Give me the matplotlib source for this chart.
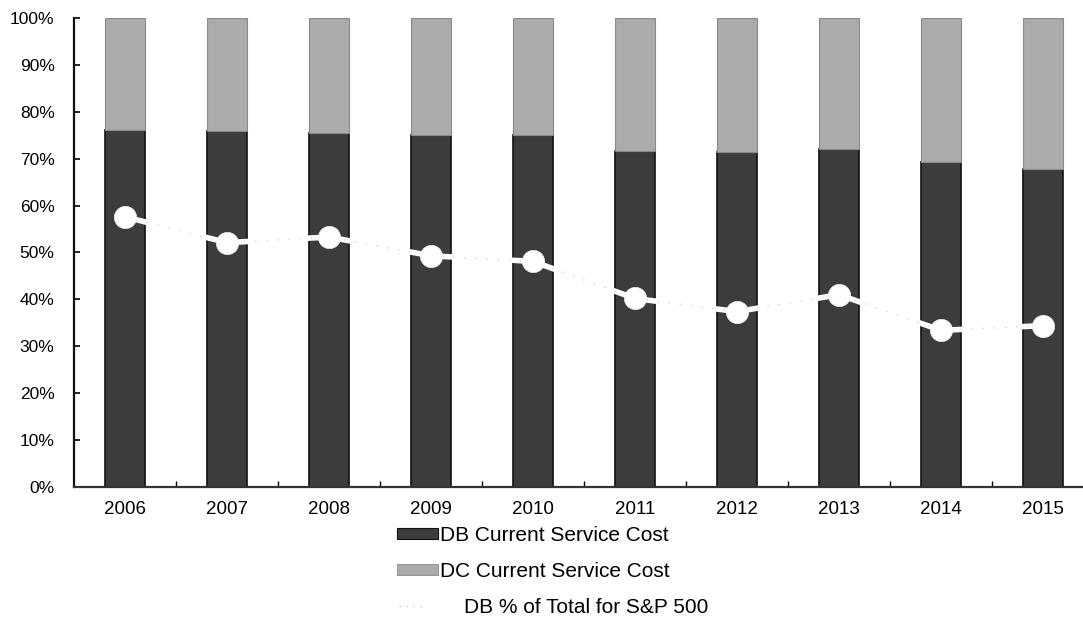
import matplotlib
matplotlib.use("Agg")
import matplotlib.pyplot as plt
from matplotlib.patches import Patch
from matplotlib.lines import Line2D
from matplotlib.ticker import FixedLocator, PercentFormatter

plt.rcParams['font.family'] = ['Liberation Sans', 'DejaVu Sans']

# Share of total current service cost, S&P 500 companies
years = ["2006", "2007", "2008", "2009", "2010", "2011", "2012", "2013", "2014", "2015"]
db_share = [76.1, 75.9, 75.4, 75.0, 75.1, 71.7, 71.5, 72.0, 69.3, 67.9]
dc_share = [100 - v for v in db_share]
db_pct_total = [57.6, 52.1, 53.3, 49.3, 48.1, 40.2, 37.4, 41.0, 33.4, 34.4]

db_label = "DB Current Service Cost"
dc_label = "DC Current Service Cost"
line_label = "DB % of Total for S&P 500"

DB_COLOR = "#3c3c3c"
DC_COLOR = "#ababab"

fig = plt.figure(figsize=(10.83, 6.19), dpi=100)
ax = fig.add_axes([74 / 1083, 1 - 487 / 619, 1020 / 1083, (487 - 18) / 619])

x = list(range(len(years)))
ax.bar(x, db_share, width=0.39, color=DB_COLOR, edgecolor="#111111", linewidth=1.2, zorder=2)
ax.bar(x, dc_share, bottom=db_share, width=0.39, color=DC_COLOR, edgecolor="#8a8a8a",
       linewidth=0.8, zorder=2)

# white trend line with faint specks where it crosses the white background
ax.plot(x, db_pct_total, color="white", lw=4, solid_capstyle="round", zorder=3)
ax.plot(x, db_pct_total, color="#d2d2d2", lw=1.0, linestyle=(0, (1, 7)), zorder=4)
ax.plot(x, db_pct_total, linestyle="none", marker="o", markersize=16,
        markerfacecolor="white", markeredgecolor="#f0f0f0", markeredgewidth=0.5, zorder=5)

ax.set_xlim(-0.5, 9.5)
ax.set_ylim(0, 100)
ax.yaxis.set_major_locator(FixedLocator(range(0, 101, 10)))
ax.yaxis.set_major_formatter(PercentFormatter(decimals=0))
ax.set_xticks(x)
ax.set_xticklabels(years)
ax.xaxis.set_minor_locator(FixedLocator([i + 0.5 for i in range(len(years))]))

for side in ("top", "right"):
    ax.spines[side].set_visible(False)
ax.spines["left"].set_linewidth(1.6)
ax.spines["bottom"].set_linewidth(1.6)
ax.spines["left"].set_color("#111111")
ax.spines["bottom"].set_color("#333333")

ax.tick_params(axis="y", direction="in", length=4, width=1.2, pad=14, labelsize=12.5)
ax.tick_params(axis="x", which="major", length=0, pad=10, labelsize=13.5)
ax.tick_params(axis="x", which="minor", direction="in", length=4, width=1.0)

# bar legend: two rows below the axis
bar_handles = [
    Patch(facecolor=DB_COLOR, edgecolor="#111111", linewidth=0.8),
    Patch(facecolor=DC_COLOR, edgecolor="#8a8a8a", linewidth=0.6),
]
fig.legend(bar_handles, [db_label, dc_label],
           loc="upper left", bbox_to_anchor=(397 / 1083, 1 - 526 / 619),
           frameon=False, fontsize=15, borderpad=0, borderaxespad=0,
           handlelength=1.95, handleheight=0.42, handletextpad=0.12,
           labelspacing=0.8)

# line legend: third row, text set further right
line_handle = [Line2D([0], [0], color="#c4c4c4", lw=1.0, linestyle=(0, (1, 4)))]
fig.legend(line_handle, [line_label],
           loc="upper left", bbox_to_anchor=(399 / 1083, 1 - 598 / 619),
           frameon=False, fontsize=15, borderpad=0, borderaxespad=0,
           handlelength=1.1, handletextpad=2.0)

fig.savefig("out.png", dpi=100)
